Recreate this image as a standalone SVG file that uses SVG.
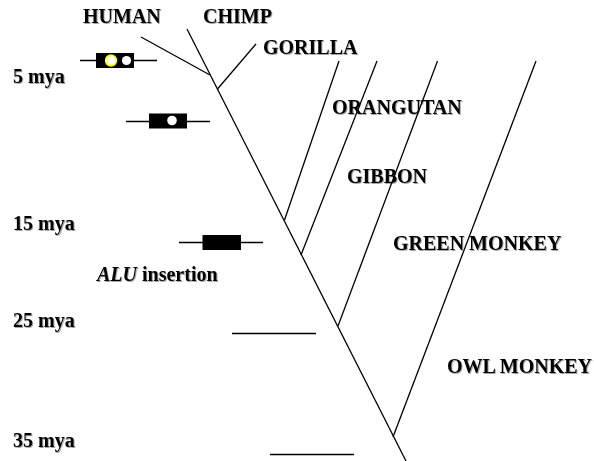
<svg xmlns="http://www.w3.org/2000/svg" width="594" height="461" viewBox="0 0 594 461">
  <style>
    .lbl { font-family: "Liberation Serif", "Times New Roman", serif; font-weight: bold; font-size: 20px; fill: #000; filter: url(#shadow); }
    .edge { stroke: #000; stroke-width: 1.3; fill: none; stroke-linecap: butt; }
    .gene { stroke: #000; stroke-width: 1.3; }
    .box { fill: #000; }
  </style>
  <defs>
    <filter id="shadow" x="-5%" y="-20%" width="115%" height="150%">
      <feDropShadow dx="1" dy="1" stdDeviation="0.6" flood-color="#000" flood-opacity="0.35"/>
    </filter>
  </defs>
  <rect width="594" height="461" fill="#fff"/>

  <!-- tree branches -->
  <g id="connectors">
    <line class="edge" x1="187" y1="29" x2="406" y2="461"/>
    <line class="edge" x1="141" y1="37" x2="210" y2="75"/>
    <line class="edge" x1="256" y1="44" x2="217.5" y2="89"/>
    <line class="edge" x1="339" y1="61" x2="284.5" y2="220"/>
    <line class="edge" x1="377" y1="61" x2="301" y2="255"/>
    <line class="edge" x1="437.5" y1="61" x2="338" y2="326"/>
    <line class="edge" x1="536" y1="61" x2="393" y2="437"/>
  </g>

  <!-- time scale -->
  <g id="timescale">
    <text class="lbl" x="13" y="83">5 mya</text>
    <text class="lbl" x="13" y="230">15 mya</text>
    <text class="lbl" x="13" y="327">25 mya</text>
    <text class="lbl" x="13" y="447">35 mya</text>
    <line class="edge" x1="232" y1="333.5" x2="316" y2="333.5"/>
    <line class="edge" x1="270" y1="454.5" x2="354" y2="454.5"/>
  </g>

  <!-- species labels -->
  <g id="human"><text class="lbl" x="83" y="23">HUMAN</text></g>
  <g id="chimp"><text class="lbl" x="203" y="23">CHIMP</text></g>
  <g id="gorilla"><text class="lbl" x="263" y="54">GORILLA</text></g>
  <g id="orangutan"><text class="lbl" x="332" y="114">ORANGUTAN</text></g>
  <g id="gibbon"><text class="lbl" x="347" y="183">GIBBON</text></g>
  <g id="green-monkey"><text class="lbl" x="393" y="250">GREEN MONKEY</text></g>
  <g id="owl-monkey"><text class="lbl" x="447" y="373">OWL MONKEY</text></g>

  <!-- gene with two inserts -->
  <g id="gene-two-inserts">
    <line class="gene" x1="80" y1="60.5" x2="157" y2="60.5"/>
    <rect class="box" x="96" y="53" width="38" height="15"/>
    <circle cx="111" cy="60.5" r="5.3" fill="#fff" stroke="#ffff00" stroke-width="1.8"/>
    <circle cx="126.5" cy="60.5" r="4.6" fill="#fff"/>
  </g>

  <!-- gene with one insert -->
  <g id="gene-one-insert">
    <line class="gene" x1="126" y1="121.5" x2="210" y2="121.5"/>
    <rect class="box" x="149" y="113.5" width="38" height="15"/>
    <circle cx="172" cy="120.5" r="4.8" fill="#fff"/>
  </g>

  <!-- ancestral gene -->
  <g id="gene-ancestral">
    <line class="gene" x1="179" y1="242.5" x2="263" y2="242.5"/>
    <rect class="box" x="202.5" y="235" width="38.5" height="15"/>
  </g>

  <g id="alu-label">
    <text class="lbl" x="97" y="281"><tspan font-style="italic">ALU</tspan> insertion</text>
  </g>
</svg>
